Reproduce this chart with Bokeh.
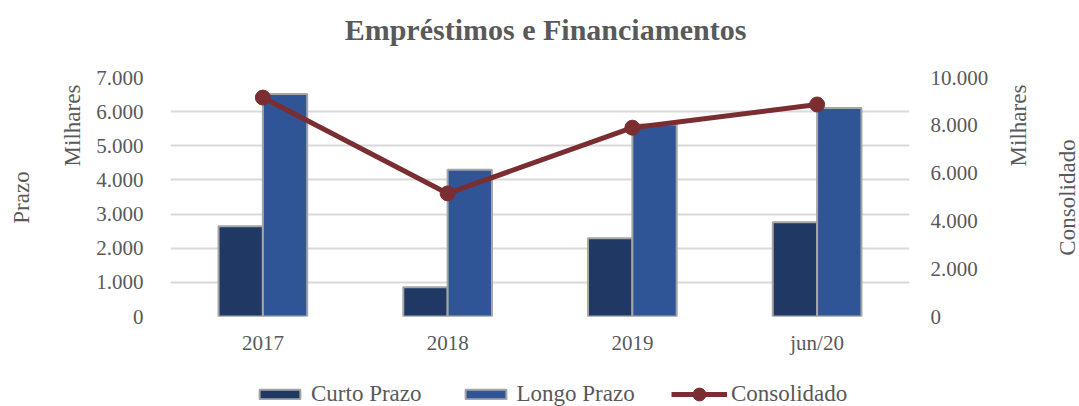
import math
import numpy as np
from bokeh.plotting import figure
from bokeh.models import (FactorRange, Range1d, LinearAxis, FixedTicker, Legend,
                          LegendItem, ColumnDataSource)
from bokeh.transform import dodge
from bokeh.layouts import row, column
from bokeh.core.properties import value
from bokeh.embed import file_html
from bokeh.resources import INLINE

categories = ["2017", "2018", "2019", "jun/20"]
curto_prazo = [2640, 860, 2290, 2760]
longo_prazo = [6520, 4300, 5620, 6110]
consolidado = [9160, 5150, 7900, 8870]
left_ticks = [0, 1000, 2000, 3000, 4000, 5000, 6000, 7000]
left_tick_labels = ["0", "1.000", "2.000", "3.000", "4.000", "5.000", "6.000", "7.000"]
right_ticks = [0, 2000, 4000, 6000, 8000, 10000]
right_tick_labels = ["0", "2.000", "4.000", "6.000", "8.000", "10.000"]
title_text = "Empréstimos e Financiamentos"

FONT = "Liberation Serif"
TXT = "#595959"
C_CURTO, C_LONGO, C_CONS, C_EDGE = "#203864", "#2f5597", "#7b2e31", "#a5a5a5"
W = 1079
TITLE_H = 65
TOP_B = 12
FRAME_H = 239
BOTTOM = 40
LEG_H = 406 - TITLE_H - TOP_B - FRAME_H - BOTTOM

src = ColumnDataSource(dict(cat=categories, curto=curto_prazo, longo=longo_prazo, cons=consolidado))

p = figure(x_range=FactorRange(*categories), y_range=Range1d(0, 7000),
           frame_width=739, frame_height=FRAME_H, output_backend="svg", toolbar_location=None,
           min_border_left=80, min_border_right=91, min_border_top=TOP_B,
           min_border_bottom=BOTTOM)
p.extra_y_ranges = {"cons": Range1d(0, 10000)}
p.outline_line_color = None
p.background_fill_color = "white"
p.border_fill_color = "white"
p.title.visible = False

p.vbar(x=dodge("cat", -0.12, range=p.x_range), top="curto", width=0.24, source=src,
       fill_color=C_CURTO, line_color=C_EDGE, line_width=2)
p.vbar(x=dodge("cat", 0.12, range=p.x_range), top="longo", width=0.24, source=src,
       fill_color=C_LONGO, line_color=C_EDGE, line_width=2)
p.line(x="cat", y="cons", source=src, y_range_name="cons", line_color=C_CONS, line_width=5)
p.scatter(x="cat", y="cons", source=src, y_range_name="cons", size=15,
          fill_color=C_CONS, line_color=C_CONS)

ya = p.yaxis[0]
ya.ticker = FixedTicker(ticks=left_ticks)
ya.major_label_overrides = {t: l for t, l in zip(left_ticks, left_tick_labels)}

ra = LinearAxis(y_range_name="cons", ticker=FixedTicker(ticks=right_ticks))
ra.major_label_overrides = {t: l for t, l in zip(right_ticks, right_tick_labels)}
p.add_layout(ra, "right")

ya.major_label_standoff = 27
ra.major_label_standoff = 21
for ax in (ya, ra, p.xaxis[0]):
    ax.axis_line_color = None
    ax.major_tick_line_color = None
    ax.minor_tick_line_color = None
    ax.major_tick_out = 0
    ax.major_tick_in = 0
    ax.major_label_text_font = FONT
    ax.major_label_text_font_size = "21px"
    ax.major_label_text_color = TXT
p.xaxis[0].major_label_standoff = 14

p.xgrid.grid_line_color = None
p.ygrid.grid_line_color = "#d9d9d9"
p.ygrid.grid_line_width = 2
p.ygrid.ticker = FixedTicker(ticks=left_ticks)


def blank(w, h, top=0, bottom=0):
    f = figure(frame_width=w, frame_height=h, x_range=Range1d(0, w), y_range=Range1d(h, 0),
               output_backend="svg", toolbar_location=None, min_border=0,
               min_border_top=top, min_border_bottom=bottom,
               x_axis_location=None, y_axis_location=None)
    f.outline_line_color = None
    f.grid.visible = False
    f.title.visible = False
    f.background_fill_color = "white"
    f.border_fill_color = "white"
    return f


# title strip
top = blank(W, TITLE_H)
top.text(x=[545], y=[29], text=[title_text], text_align="center", text_baseline="middle",
         text_font=value(FONT), text_font_size=value("30px"), text_font_style="bold",
         text_color=TXT)


def side(w, xs, ys, texts):
    f = blank(w, FRAME_H, TOP_B, BOTTOM)
    f.text(x=xs, y=ys, text=texts, angle=math.pi / 2, text_align="center",
           text_baseline="middle", text_font=value(FONT), text_font_size=value("23px"),
           text_color=TXT)
    return f


# y positions measured from the top of the plotting frame
left = side(90, [21, 72], [120, 48], ["Prazo", "Milhares"])
right = side(79, [18, 67], [48, 120], ["Milhares", "Consolidado"])

# legend strip: legend entries styled like the series above (placeholders hold no visible data)
lg = blank(W, LEG_H)
nan = np.array([np.nan])
e_c = lg.vbar(x=nan, top=nan, width=1, fill_color=C_CURTO, line_color=C_EDGE, line_width=2)
e_l = lg.vbar(x=nan, top=nan, width=1, fill_color=C_LONGO, line_color=C_EDGE, line_width=2)
e_line = lg.line(x=nan, y=nan, line_color=C_CONS, line_width=5)
e_pt = lg.scatter(x=nan, y=nan, size=15, fill_color=C_CONS, line_color=C_CONS)

common = dict(orientation="horizontal", label_text_font=FONT, label_text_font_size="23px",
              label_text_color=TXT, padding=0, margin=0, border_line_color=None,
              background_fill_color=None)
leg1 = Legend(items=[LegendItem(label="Curto Prazo", renderers=[e_c]),
                     LegendItem(label="Longo Prazo", renderers=[e_l])],
              location=(254, 0), glyph_width=51, glyph_height=12, spacing=38,
              label_standoff=6, **common)
leg2 = Legend(items=[LegendItem(label="Consolidado", renderers=[e_line, e_pt])],
              location=(671, -3), glyph_width=56, glyph_height=32, label_standoff=4, **common)
lg.add_layout(leg1, "center")
lg.add_layout(leg2, "center")

layout = column(top, row(left, p, right, spacing=0), lg, spacing=0)
open("out.html", "w").write(file_html(layout, INLINE))
